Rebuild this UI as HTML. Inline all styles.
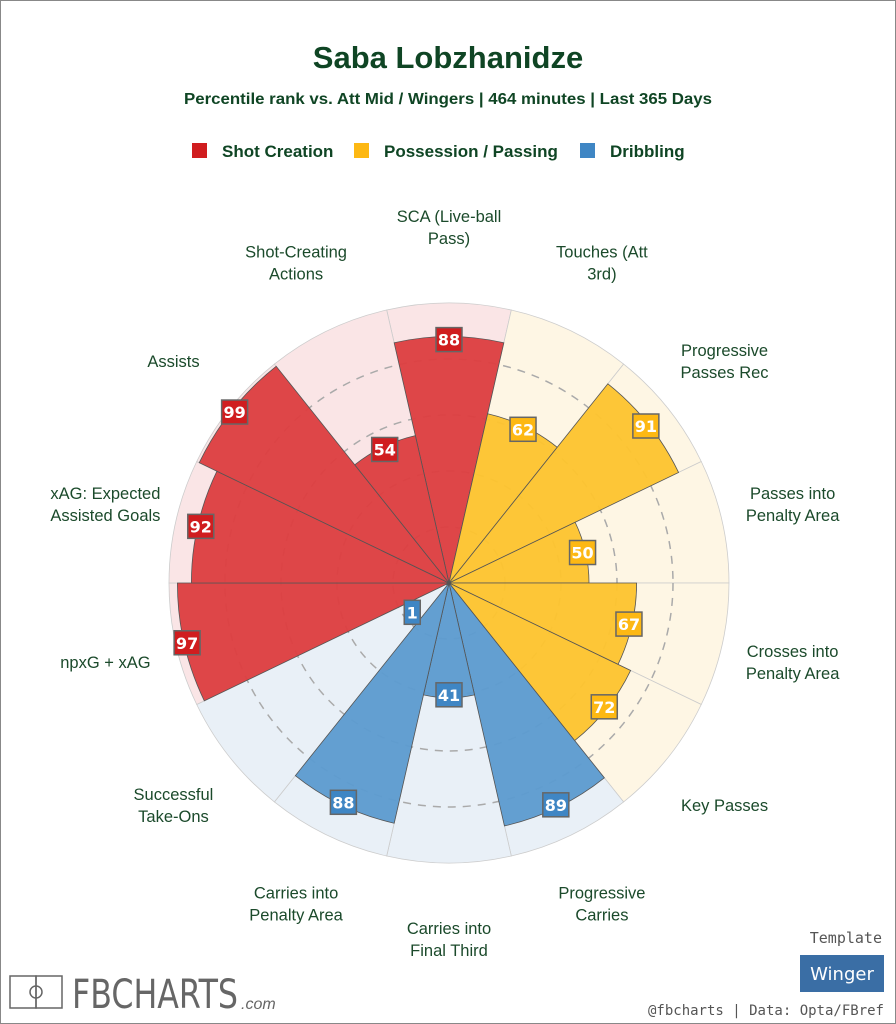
<!DOCTYPE html>
<html><head><meta charset="utf-8"><style>
body{margin:0;background:#fff}
#w{position:relative;width:894px;height:1022px;border:1px solid #888;overflow:hidden;font-family:"Liberation Sans",sans-serif}
</style></head><body><div id="w">
<svg id="s" width="894" height="1022" viewBox="1 1 894 1022" xmlns="http://www.w3.org/2000/svg" style="position:absolute;left:0;top:0"></svg>
</div>
<script>
const s=document.getElementById('s');
const cx=449,cy=583,R=280;
const data=[
["SCA (Live-ball|Pass)",88,0],["Touches (Att|3rd)",62,1],["Progressive|Passes Rec",91,1],["Passes into|Penalty Area",50,1],["Crosses into|Penalty Area",67,1],["Key Passes",72,1],["Progressive|Carries",89,2],["Carries into|Final Third",41,2],["Carries into|Penalty Area",88,2],["Successful|Take-Ons",1,2],["npxG + xAG",97,0],["xAG: Expected|Assisted Goals",92,0],["Assists",99,0],["Shot-Creating|Actions",54,0]];
const bar=["#dd4042","#fdc431","#5e9ccf"],bg=["#fae5e6","#fef6e4","#e9f0f7"],box=["#d01d1f","#fdb813","#3f86c4"];
let h='';
const pt=(a,r)=>[cx+r*Math.sin(a*Math.PI/180),cy-r*Math.cos(a*Math.PI/180)];
const wedge=(a0,a1,r)=>{const p=pt(a0,r),q=pt(a1,r);return `M${cx},${cy}L${p[0]},${p[1]}A${r},${r} 0 0 1 ${q[0]},${q[1]}Z`;};
const st=360/14;
data.forEach((d,i)=>{const c=i*st;h+=`<path d="${wedge(c-st/2,c+st/2,R)}" fill="${bg[d[2]]}" stroke="#ccc" stroke-width="0.8"/>`;});
[56,112,168,224].forEach(r=>h+=`<circle cx="${cx}" cy="${cy}" r="${r}" fill="none" stroke="#aaa" stroke-width="1.5" stroke-dasharray="8,7"/>`);
data.forEach((d,i)=>{const c=i*st;h+=`<path d="${wedge(c-st/2,c+st/2,R*d[1]/100)}" fill="${bar[d[2]]}" fill-opacity="0.97" stroke="#555" stroke-width="0.8"/>`;});
data.forEach((d,i)=>{const c=i*st;const r=Math.max(R*d[1]/100-3,47);const p=pt(c,r);const w=d[1]<10?16:26;
h+=`<rect x="${p[0]-w/2}" y="${p[1]-12}" width="${w}" height="24" fill="${box[d[2]]}" stroke="#666" stroke-width="1.5"/><text x="${p[0]}" y="${p[1]+6}" text-anchor="middle" font-size="16" font-weight="bold" fill="#fff" font-family="DejaVu Sans">${d[1]}</text>`;
const l=pt(c,356);const lx=cx+(l[0]-cx)*0.99;const ls=d[0].split('|');const y0=l[1]-(ls.length-1)*11+6;
ls.forEach((t,j)=>h+=`<text x="${lx}" y="${y0+j*22}" text-anchor="middle" font-size="16.5" fill="#1b4a2b">${t}</text>`);});
h+=`<text x="448" y="68" text-anchor="middle" font-size="31" font-weight="bold" fill="#0f4524">Saba Lobzhanidze</text>
<text x="448" y="104" text-anchor="middle" font-size="16" font-weight="bold" fill="#0f4524" textLength="528" lengthAdjust="spacingAndGlyphs">Percentile rank vs. Att Mid / Wingers | 464 minutes | Last 365 Days</text>
<rect x="192" y="143" width="15" height="15" fill="#d01d1f"/><text x="222" y="157" font-size="17" font-weight="bold" fill="#0f4524">Shot Creation</text>
<rect x="354" y="143" width="15" height="15" fill="#fdb813"/><text x="384" y="157" font-size="17" font-weight="bold" fill="#0f4524">Possession / Passing</text>
<rect x="580" y="143" width="15" height="15" fill="#3f86c4"/><text x="610" y="157" font-size="17" font-weight="bold" fill="#0f4524">Dribbling</text>
<text x="882" y="943" text-anchor="end" font-size="15" fill="#555" font-family="DejaVu Sans Mono, monospace">Template</text>
<rect x="800" y="955" width="84" height="37" fill="#3a6ea5"/><text x="842" y="980" text-anchor="middle" font-size="18" fill="#fff" font-family="DejaVu Sans">Winger</text>
<text x="884" y="1015" text-anchor="end" font-size="14" fill="#555" font-family="DejaVu Sans Mono, monospace">@fbcharts | Data: Opta/FBref</text>
<rect x="10" y="976" width="26" height="32" fill="none" stroke="#666" stroke-width="1.5"/><rect x="36" y="976" width="26" height="32" fill="none" stroke="#666" stroke-width="1.5"/><circle cx="36" cy="992" r="6" fill="none" stroke="#666" stroke-width="1.5"/>
<text x="72" y="1008" font-size="40" fill="#666" font-family="DejaVu Sans" textLength="166" lengthAdjust="spacingAndGlyphs">FBCHARTS</text>
<text x="241" y="1009" font-size="16" fill="#666" font-style="italic">.com</text>`;
s.innerHTML=h;
</script></body></html>
